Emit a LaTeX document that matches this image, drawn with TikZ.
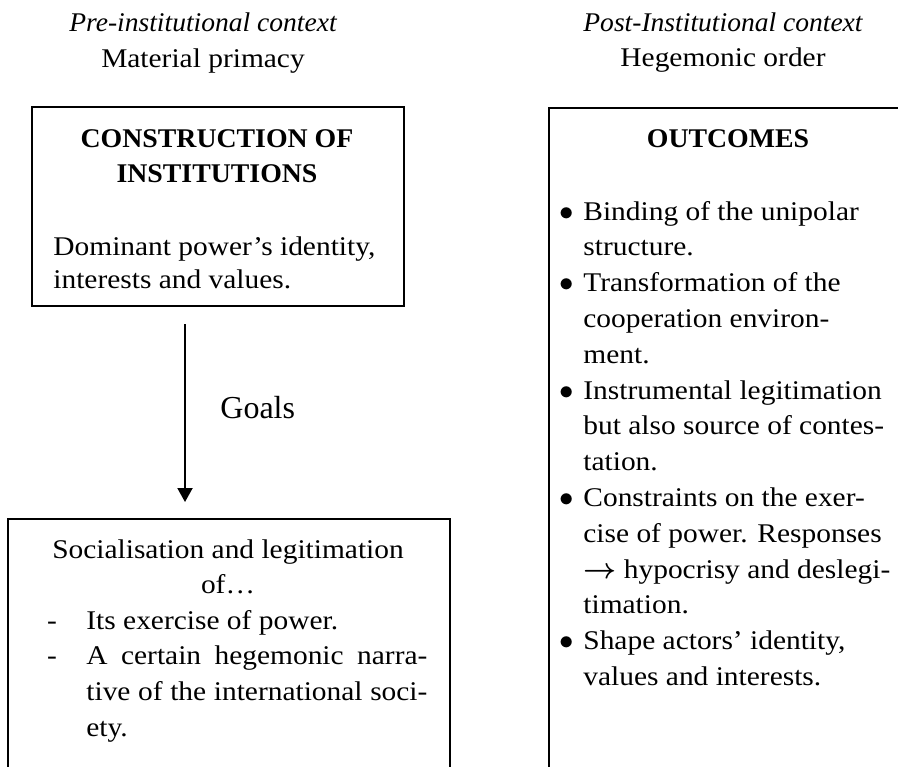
\documentclass[tikz,border=0pt]{standalone}
\usepackage{fontspec}
\setmainfont[FakeStretch=1.09,
  ItalicFeatures={FakeStretch=1.02},
  BoldFeatures={FakeStretch=1.03}]{Liberation Serif}
\newfontfamily\goalsfont{Liberation Serif}
\usetikzlibrary{arrows.meta}
\tikzset{
  frame/.style={draw, line width=1pt, inner sep=0pt},
  txt/.style={font=\fontsize{13.5}{18}\selectfont, inner sep=0pt},
  lft/.style={txt, anchor=base west},
  mid/.style={txt, anchor=base},
  flow/.style={line width=1pt, -{Triangle[width=7.5pt,length=7pt]}, shorten <=8.5pt, shorten >=8pt},
}
\begin{document}
\begin{tikzpicture}[x=0.5pt,y=-0.5pt]
\useasboundingbox (0,0) rectangle (898,766);
\clip (0,0) rectangle (898,766);
\fill[white] (0,0) rectangle (898,766);

% column headings
\node[mid] (pre)  at (203,31) {\itshape Pre-institutional context};
\node[mid] (mat)  at (203,67) {Material primacy};
\node[mid] (post) at (723,31) {\itshape Post-Institutional context};
\node[mid] (heg)  at (723,66) {Hegemonic order};

% boxes
\node[frame, minimum width=186pt, minimum height=99.5pt] (cons) at (218,206.5) {};
\node[frame, minimum width=221pt, minimum height=130.5pt] (soc) at (229,649.5) {};
\node[frame, minimum width=180.5pt, minimum height=336pt] (out) at (729.5,444) {};

% construction box
\node[mid] (c1) at (217,147) {\bfseries CONSTRUCTION OF};
\node[mid] (c2) at (217,182) {\bfseries INSTITUTIONS};
\node[lft] (c3) at (53,255) {Dominant power's identity,};
\node[lft] (c4) at (53,288) {interests and values.};

% goals connector
\coordinate (ax) at (185,0);
\draw[flow] (cons.south -| ax) -- (soc.north -| ax);
\node[anchor=base west, inner sep=0pt, font=\goalsfont\fontsize{16}{19}\selectfont] (goals) at (220,418) {Goals};

% socialisation box
\node[mid] (s1) at (228,558) {Socialisation and legitimation};
\node[mid] (s2) at (228,593) {of…};
\node[mid] (d1) at (52,629) {-};
\node[lft] (s3) at (86,629) {Its exercise of power.};
\node[mid] (d2) at (52,664) {-};
\node[lft] (s4) at (86,664) {\makebox[170.5pt][s]{A certain hegemonic narra-}};
\node[lft] (s5) at (86,700) {\makebox[170.5pt][s]{tive of the international soci-}};
\node[lft] (s6) at (86,736) {ety.};

% outcomes box
\node[mid] (o0) at (728,147) {\bfseries OUTCOMES};
\foreach \k/\t in {0/{Binding of the unipolar}, 1/{structure.}, 2/{Transformation of the},
  3/{cooperation environ-}, 4/{ment.}, 5/{Instrumental legitimation}, 6/{but also source of contes-},
  7/{tation.}, 8/{Constraints on the exer-}, 9/{cise of power. Responses},
  10/{{\boldmath$\rightarrow$} hypocrisy and deslegi-}, 11/{timation.}, 12/{Shape actors' identity,},
  13/{values and interests.}}
  \node[lft] (r\k) at (583,220+35.8*\k) {\t};
\foreach \k in {0,2,5,8,12}
  \node[mid] (b\k) at (567,220+35.8*\k) {$\bullet$};
\end{tikzpicture}
\end{document}
